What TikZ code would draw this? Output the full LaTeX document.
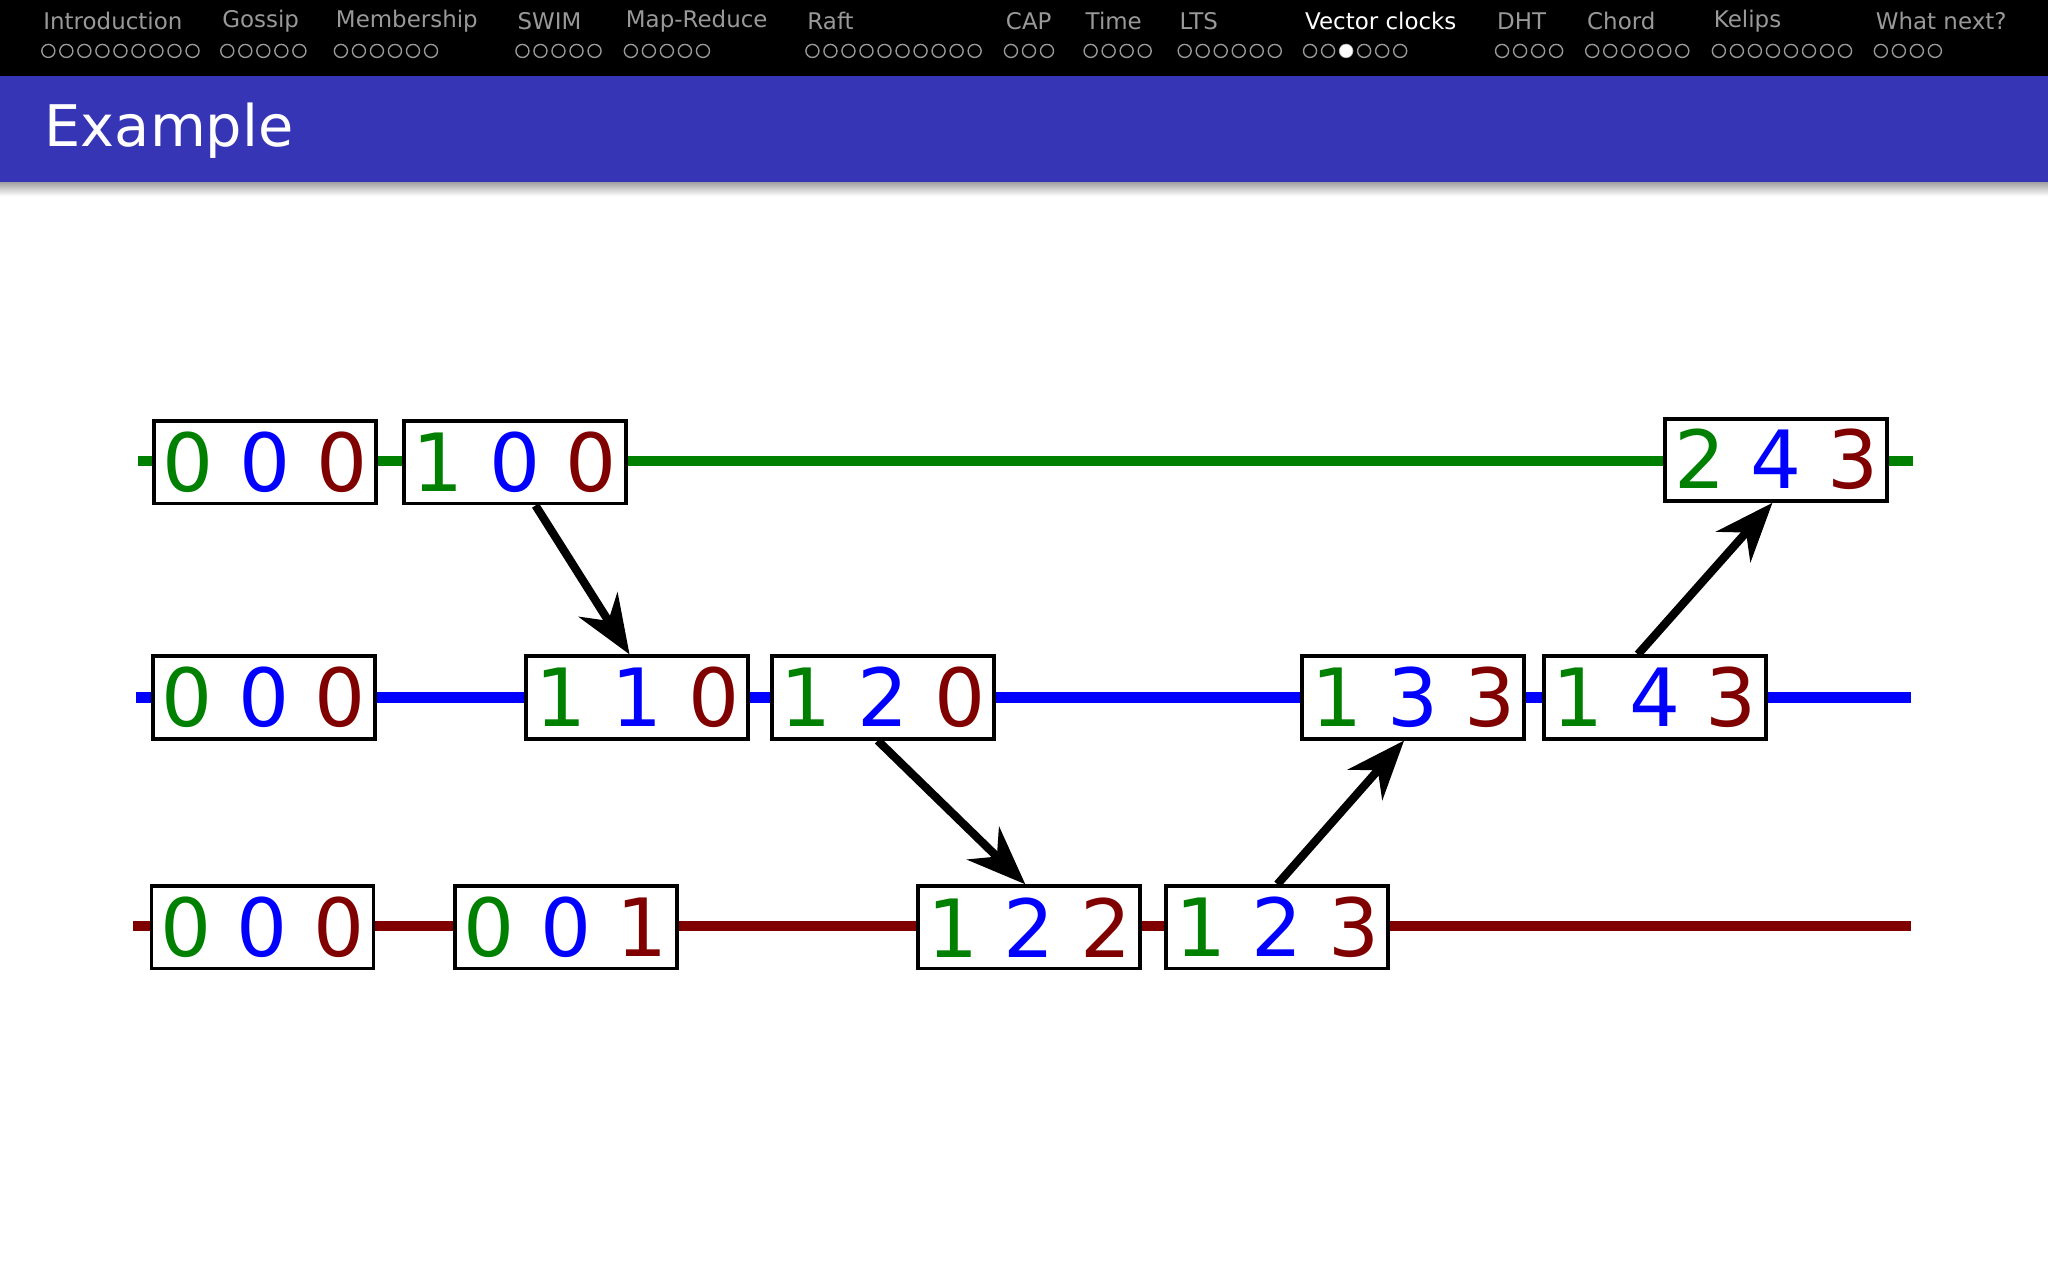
\documentclass[tikz,border=0pt]{standalone}
\usepackage{fontspec}
\setmainfont{DejaVu Sans}
\usetikzlibrary{arrows.meta,calc}
\definecolor{g}{HTML}{008000}
\definecolor{b}{HTML}{0000FF}
\definecolor{r}{HTML}{800000}
\definecolor{bar}{HTML}{3535B5}
\newcommand{\vc}[3]{\textcolor{g}{#1} \textcolor{b}{#2} \textcolor{r}{#3}}
\tikzset{
 clk/.style={draw=black,line width=1.7pt,fill=white,minimum width=3.4cm,minimum height=1.26cm,inner sep=0pt,font=\fontsize{35}{40}\selectfont},
 tl/.style={line width=4.5pt},
 msg/.style={line width=3.6pt,-{Stealth[length=0.9cm,width=0.7cm]}},
 nav/.style={anchor=west,text=gray!80,font=\fontsize{10}{12}\selectfont},
 dot/.style={draw=gray!80,line width=0.6pt}
}
\begin{document}
\begin{tikzpicture}[x=0.02cm,y=-0.02cm]
\useasboundingbox (0,0) rectangle (1568,980);
\fill[white] (0,0) rectangle (1568,980);
\fill[black] (0,0) rectangle (1568,58);
\fill[bar] (0,58) rectangle (1568,140);
\shade[top color=gray!70,bottom color=white] (0,140) rectangle (1568,150);
\node[anchor=west,text=white,font=\fontsize{25}{30}\selectfont] (title) at (28,100) {Example};
% navigation
\foreach \t/\x/\n in {Introduction/30/9,Gossip/167/5,Membership/254/6,SWIM/393/5,Map-Reduce/476/5,Raft/615/10,CAP/767/3,Time/828/4,LTS/900/6,DHT/1143/4,Chord/1212/6,Kelips/1309/8,What next?/1433/4}{
 \node[nav] at (\x-3,16) {\t};
 \foreach \i in {1,...,\n}{\draw[dot] (\x+7+13.8*\i-13.8,39) circle[radius=0.1cm];}
}
\node[nav,text=white] at (993,16) {Vector clocks};
\foreach \i in {1,...,6}{\draw[dot] (1003+13.8*\i-13.8,39) circle[radius=0.1cm];}
\fill[white] (1003+2*13.8,39) circle[radius=0.1cm];
% timelines
\draw[tl,g] (106,353) -- (1465,353);
\draw[tl,b] (104,534) -- (1463,534);
\draw[tl,r] (102,709) -- (1463,709);
% clocks
\node[clk] (g1) at (203,354) {\vc000};
\node[clk] (g2) at (394,354) {\vc100};
\node[clk] (g3) at (1360,352) {\vc243};
\node[clk] (b1) at (202,534) {\vc000};
\node[clk] (b2) at (488,534) {\vc110};
\node[clk] (b3) at (676,534) {\vc120};
\node[clk] (b4) at (1082,534) {\vc133};
\node[clk] (b5) at (1267,534) {\vc143};
\node[clk] (r1) at (201,710) {\vc000};
\node[clk] (r2) at (433,710) {\vc001};
\node[clk] (r3) at (788,710) {\vc122};
\node[clk] (r4) at (978,710) {\vc123};
% messages
\draw[msg] ([xshift=16*0.02cm]g2.south) -- ([xshift=-6*0.02cm]b2.north);
\draw[msg] ([xshift=-4*0.02cm]b3.south) -- ([xshift=-3*0.02cm]r3.north);
\draw[msg] (r4.north) -- ([xshift=-7*0.02cm]b4.south);
\draw[msg] ([xshift=-13*0.02cm]b5.north) -- ([xshift=-3*0.02cm]g3.south);
\end{tikzpicture}
\end{document}
